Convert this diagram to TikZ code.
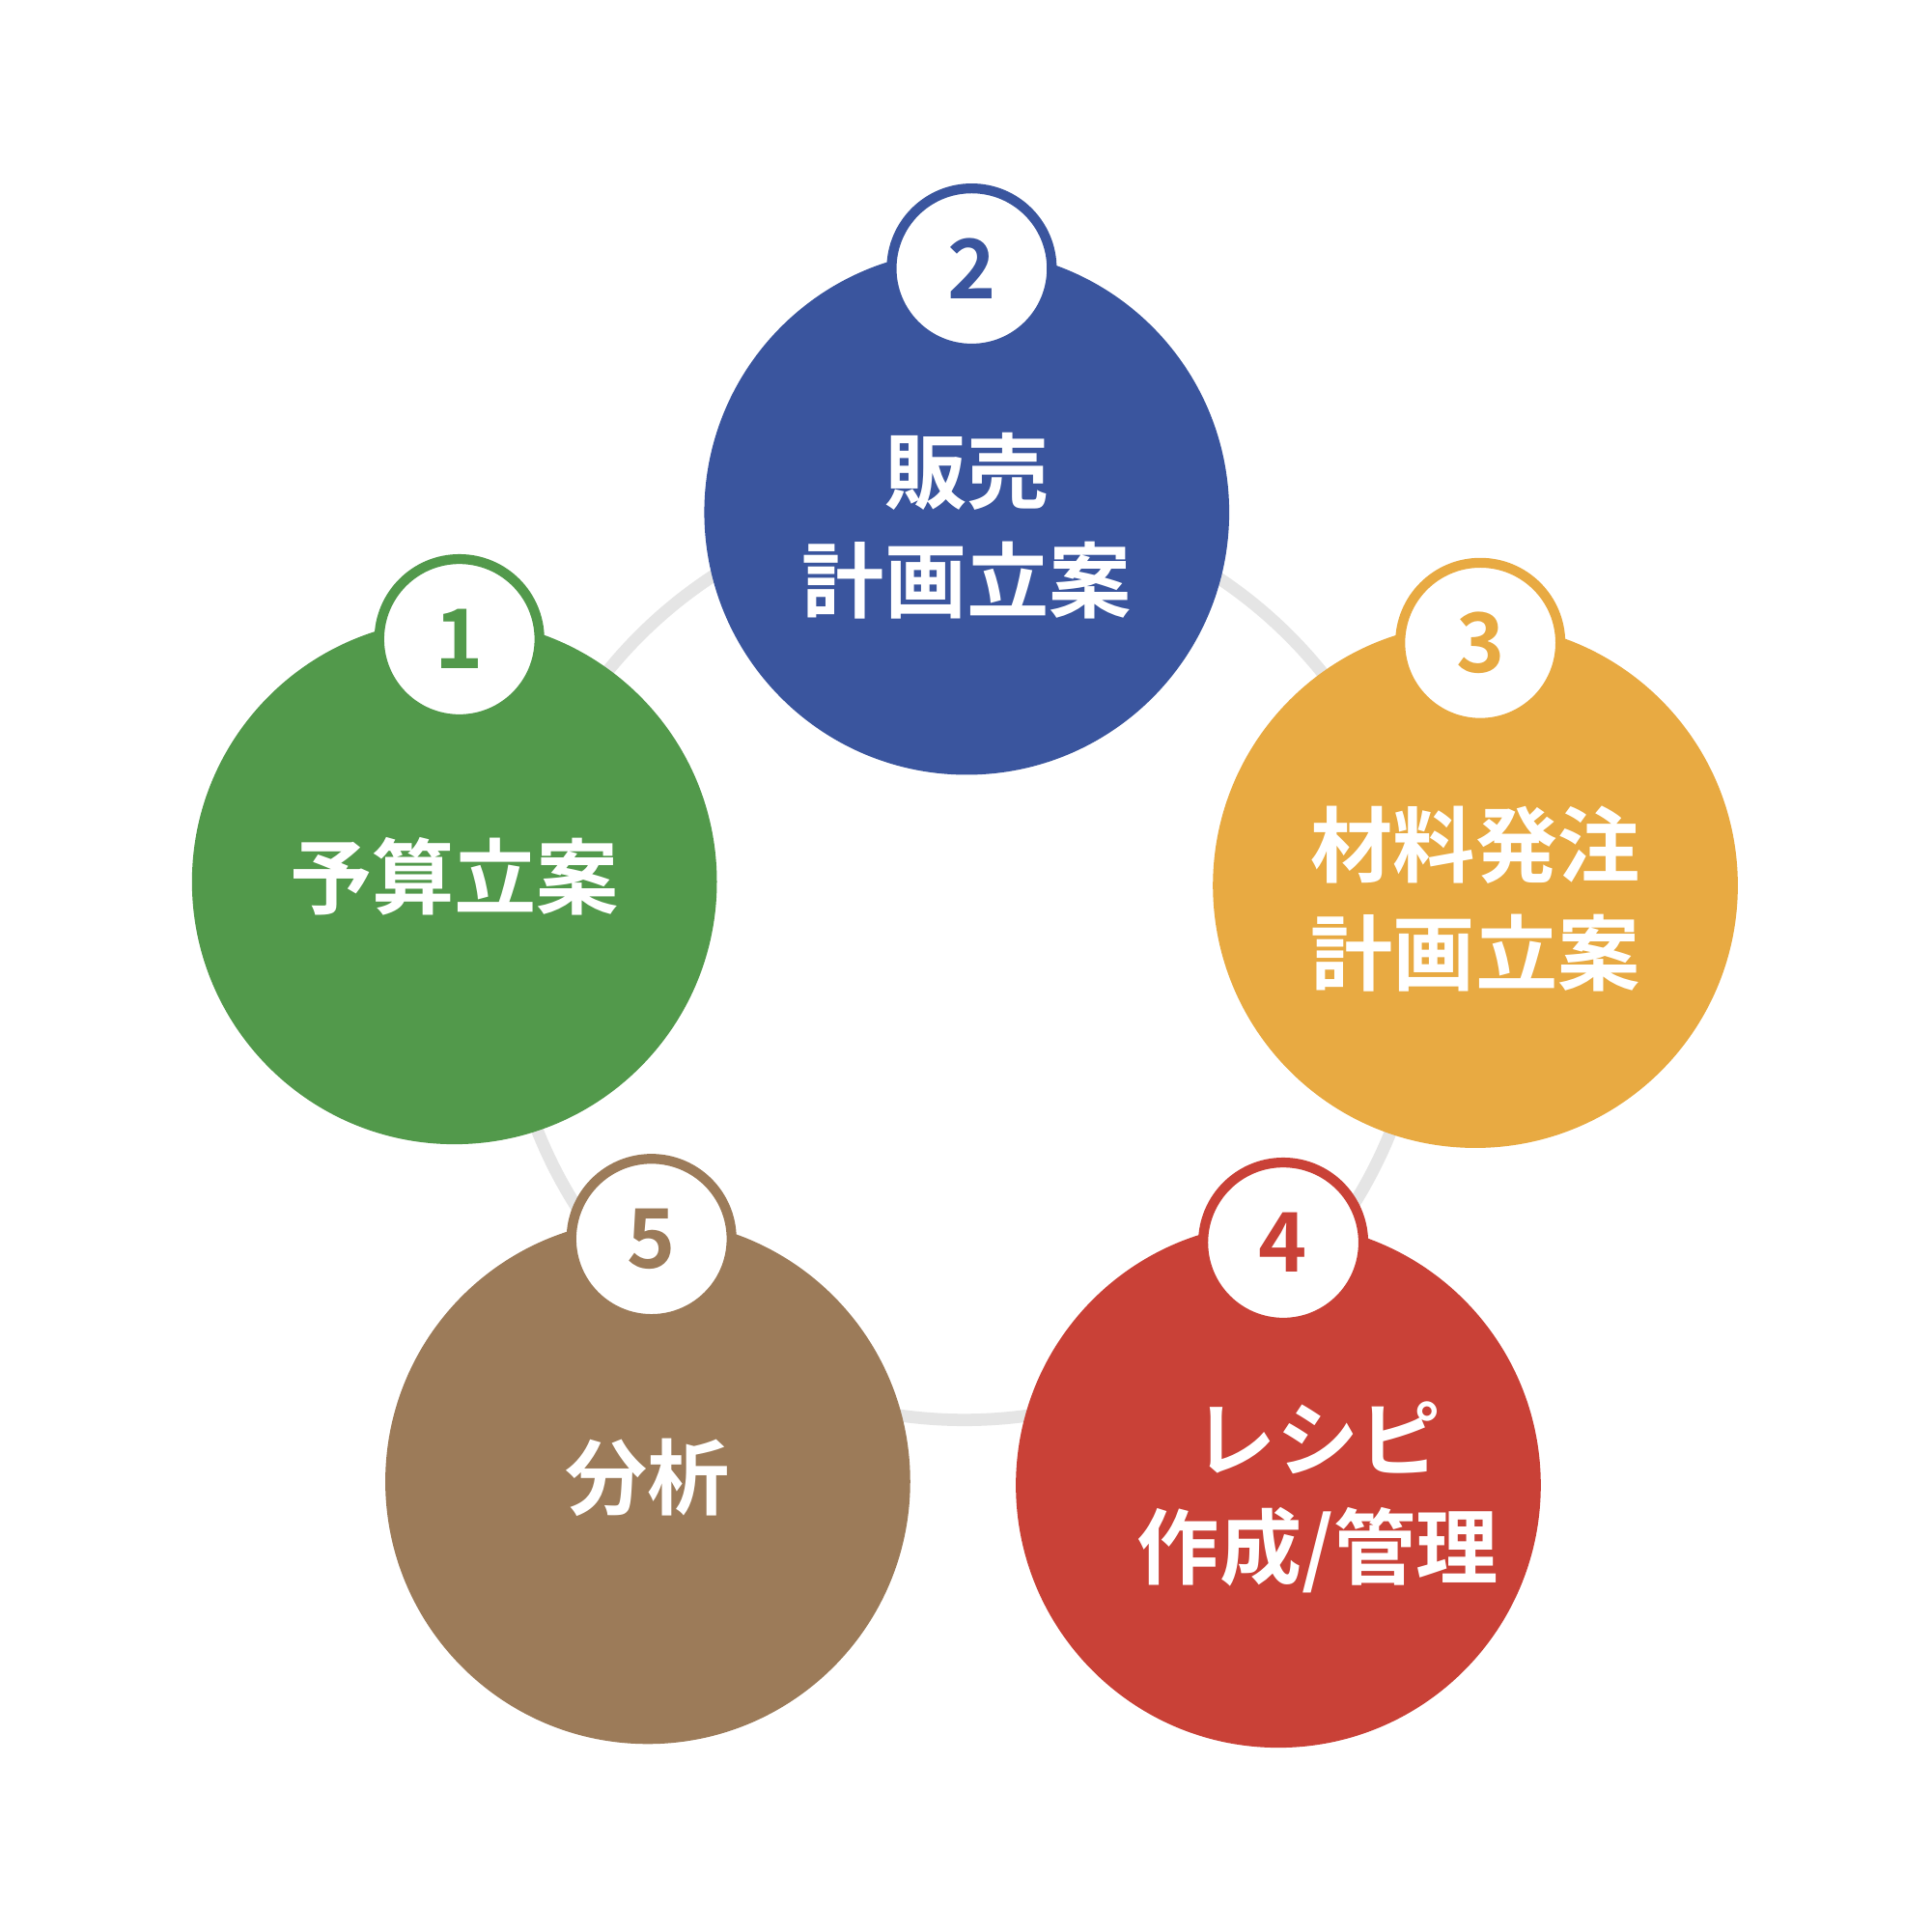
\documentclass[tikz,border=0pt]{standalone}
\usepackage{fontspec}
\newfontfamily\cjk{Noto Sans CJK JP}[BoldFont={Noto Sans CJK JP Bold}]
\definecolor{cg}{HTML}{52994B}
\definecolor{cb}{HTML}{3A559E}
\definecolor{co}{HTML}{E8AA42}
\definecolor{cr}{HTML}{C94137}
\definecolor{cn}{HTML}{9C7B59}
\definecolor{ring}{HTML}{E5E5E5}
\begin{document}
\begin{tikzpicture}[x=0.01cm,y=-0.01cm,
  big/.style={circle,minimum size=426\pgflinewidth*0+4.26cm,inner sep=0pt},
  lbl/.style={text=white,font=\cjk\bfseries\fontsize{19}{25}\selectfont,align=center},
  badge/.style={circle,fill=white,draw=#1,line width=0.08cm,minimum size=1.30cm,inner sep=0pt,text=#1,font=\cjk\bfseries\fontsize{19}{22}\selectfont}]
\useasboundingbox (0,0) rectangle (1568,1568);
\fill[white] (0,0) rectangle (1568,1568);
\draw[ring,line width=0.1cm] (783,780) circle (373);
\node[big,fill=cg] (c1) at (369,716) {};
\node[big,fill=cb] (c2) at (785,416) {};
\node[big,fill=co] (c3) at (1198,719) {};
\node[big,fill=cr] (c4) at (1038,1206) {};
\node[big,fill=cn] (c5) at (526,1203) {};
\node[lbl] (t1) at (369,712) {予算立案};
\node[lbl] (t2) at (785,427) {販売\\計画立案};
\node[lbl] (t3) at (1198,730) {材料発注\\計画立案};
\node[lbl] (t4) at (1070,1216) {レシピ\\作成/管理};
\node[lbl] (t5) at (526,1200) {分析};
\node[badge=cg] (b1) at (373,519) {1};
\node[badge=cb] (b2) at (789,218) {2};
\node[badge=co] (b3) at (1202,522) {3};
\node[badge=cr] (b4) at (1042,1009) {4};
\node[badge=cn] (b5) at (529,1006) {5};
\end{tikzpicture}
\end{document}
